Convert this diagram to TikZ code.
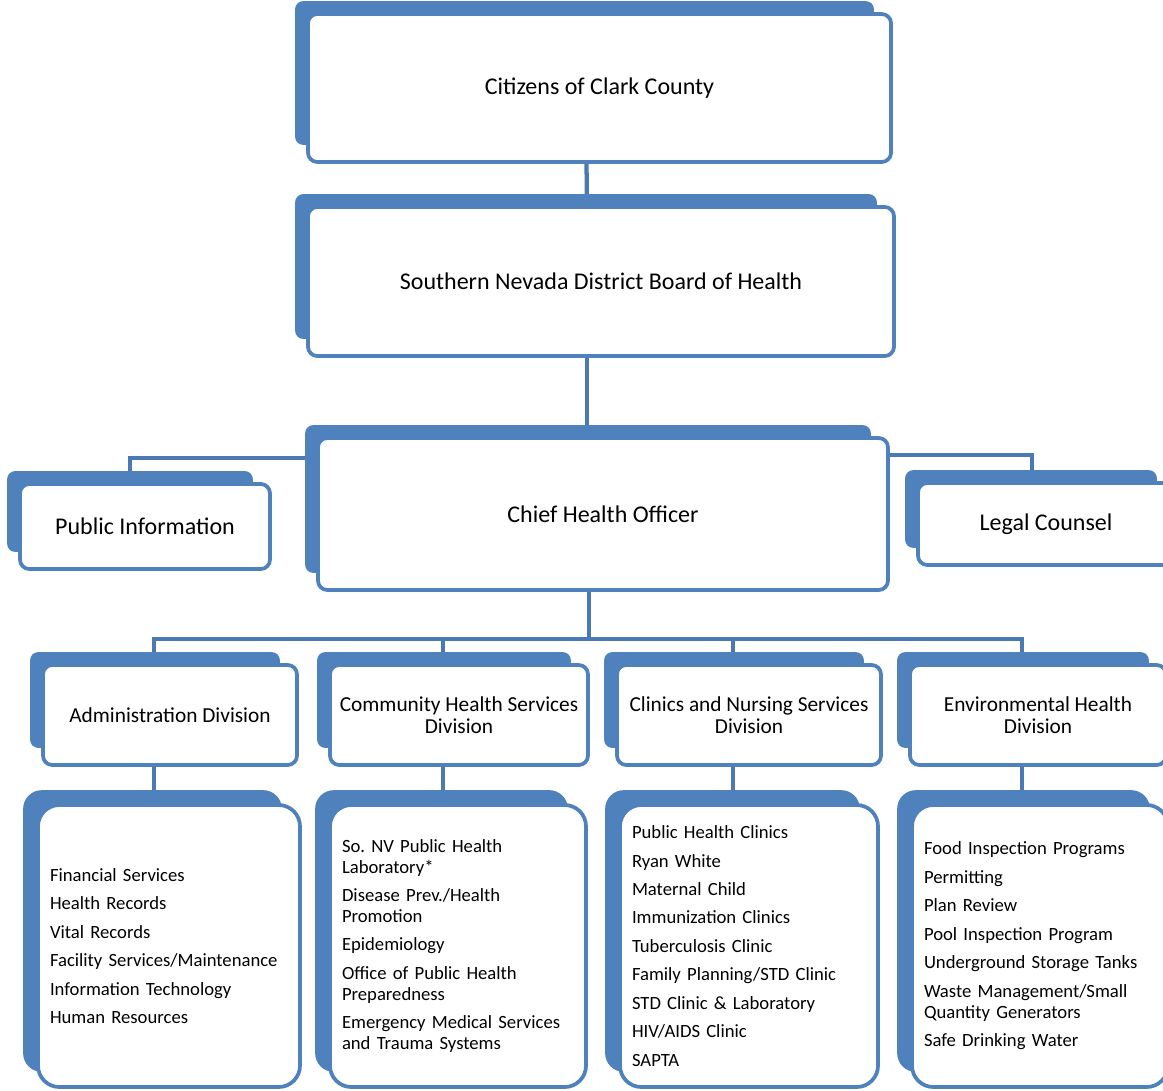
\documentclass[tikz,border=0pt]{standalone}
\usepackage{fontspec}
\setmainfont{Carlito}
\frenchspacing
\usetikzlibrary{backgrounds}
\definecolor{boxblue}{HTML}{4F81BD}
\definecolor{linkblue}{HTML}{4A7AB5}

\begin{document}
\begin{tikzpicture}[x=0.75pt,y=-0.75pt,
  topbox/.style={draw=boxblue,line width=2.8pt,fill=white,rounded corners=7pt,
    font=\fontsize{18}{22}\selectfont,align=center},
  divbox/.style={draw=boxblue,line width=2.8pt,fill=white,rounded corners=7pt,
    font=\fontsize{16}{16.7}\selectfont,align=center,minimum height=75pt},
  listbox/.style={draw=boxblue,line width=2.8pt,fill=white,rounded corners=16pt,
    font=\fontsize{14}{15.75}\selectfont,align=left,minimum height=211.5pt,inner xsep=9pt},
  backbox/.style={fill=boxblue,rounded corners=6pt},
  link/.style={draw=linkblue,line width=3.2pt}]
\clip (0,0) rectangle (1163,1090);

% top of the chart
\node[topbox,minimum width=437.3pt,minimum height=111pt] (cit) at (599.5,88) {Citizens of Clark County};
\node[topbox,minimum width=439.5pt,minimum height=111.8pt] (snd) at (601,281.5) {Southern Nevada District Board of Health};
\node[topbox,minimum width=427.5pt,minimum height=114pt] (cho) at (603,514) {Chief Health Officer};
\node[topbox,minimum width=187.5pt,minimum height=63.8pt] (pio) at (145,526.5) {Public Information};
\node[topbox,minimum width=192pt,minimum height=61.5pt] (leg) at (1046,524) {Legal Counsel};

% divisions
\node[divbox,minimum width=190.5pt] (adm) at (170,715) {Administration Division};
\node[divbox,minimum width=193.5pt] (chs) at (459,715) {Community Health Services\\Division};
\node[divbox,minimum width=198pt] (cns) at (749,715) {Clinics and Nursing Services\\Division};
\node[divbox,minimum width=192pt] (env) at (1038,715) {Environmental Health\\Division};

% programs
\node[listbox,text width=178.5pt] (admL) at (169,946) {Financial Services\\[5.6pt]
  Health Records\\[5.6pt] Vital Records\\[5.6pt] Facility Services/Maintenance\\[5.6pt]
  Information Technology\\[5.6pt] Human Resources};
\node[listbox,text width=174pt] (chsL) at (458,946) {So. NV Public Health\\Laboratory*\\[5.6pt]
  Disease Prev./Health\\Promotion\\[5.6pt] Epidemiology\\[5.6pt]
  Office of Public Health\\Preparedness\\[5.6pt] Emergency Medical Services\\and Trauma Systems};
\node[listbox,text width=175.5pt] (cnsL) at (749,946) {Public Health Clinics\\[5.6pt]
  Ryan White\\[5.6pt] Maternal Child\\[5.6pt] Immunization Clinics\\[5.6pt]
  Tuberculosis Clinic\\[5.6pt] Family Planning/STD Clinic\\[5.6pt]
  STD Clinic \& Laboratory\\[5.6pt] HIV/AIDS Clinic\\[5.6pt] SAPTA};
\node[listbox,text width=174pt] (envL) at (1040,946) {Food Inspection Programs\\[5.6pt]
  Permitting\\[5.6pt] Plan Review\\[5.6pt] Pool Inspection Program\\[5.6pt]
  Underground Storage Tanks\\[5.6pt] Waste Management/Small\\Quantity Generators\\[5.6pt]
  Safe Drinking Water};

\begin{scope}[on background layer]
% connectors
\draw[link] ([shift={(-13,0)}]cit.south) -- ([shift={(-14,0)}]snd.north);
\draw[link] ([shift={(-14,0)}]snd.south) -- ([shift={(-16,0)}]cho.north);
\draw[link] ([shift={(0,-56)}]cho.west) -| ([shift={(-15,0)}]pio.north);
\draw[link] ([shift={(0,-59)}]cho.east) -| ([shift={(-14,0)}]leg.north);
\draw[link] ([shift={(-14,0)}]cho.south) -- ++(0,47) coordinate (bus);
\foreach \d in {adm,chs,cns,env}
  \draw[link] (bus) -| ([shift={(-16,0)}]\d.north);
\foreach \d/\l in {adm/admL,chs/chsL,cns/cnsL,env/envL}
  \draw[link] ([shift={(-16,0)}]\d.south) -- ([shift={(-16,0)}]\d.south |- \l.north);

% shadow boxes behind
\foreach \b in {cit,snd,cho,pio,leg,adm,chs,cns,env}
  \fill[backbox] ([shift={(-11,-11)}]\b.north west) rectangle ([shift={(-19,-19)}]\b.south east);
\foreach \b in {admL,chsL,cnsL,envL}
  \fill[backbox,rounded corners=14pt] ([shift={(-13,-13)}]\b.north west) rectangle ([shift={(-20,-17)}]\b.south east);
\end{scope}
\end{tikzpicture}
\end{document}
